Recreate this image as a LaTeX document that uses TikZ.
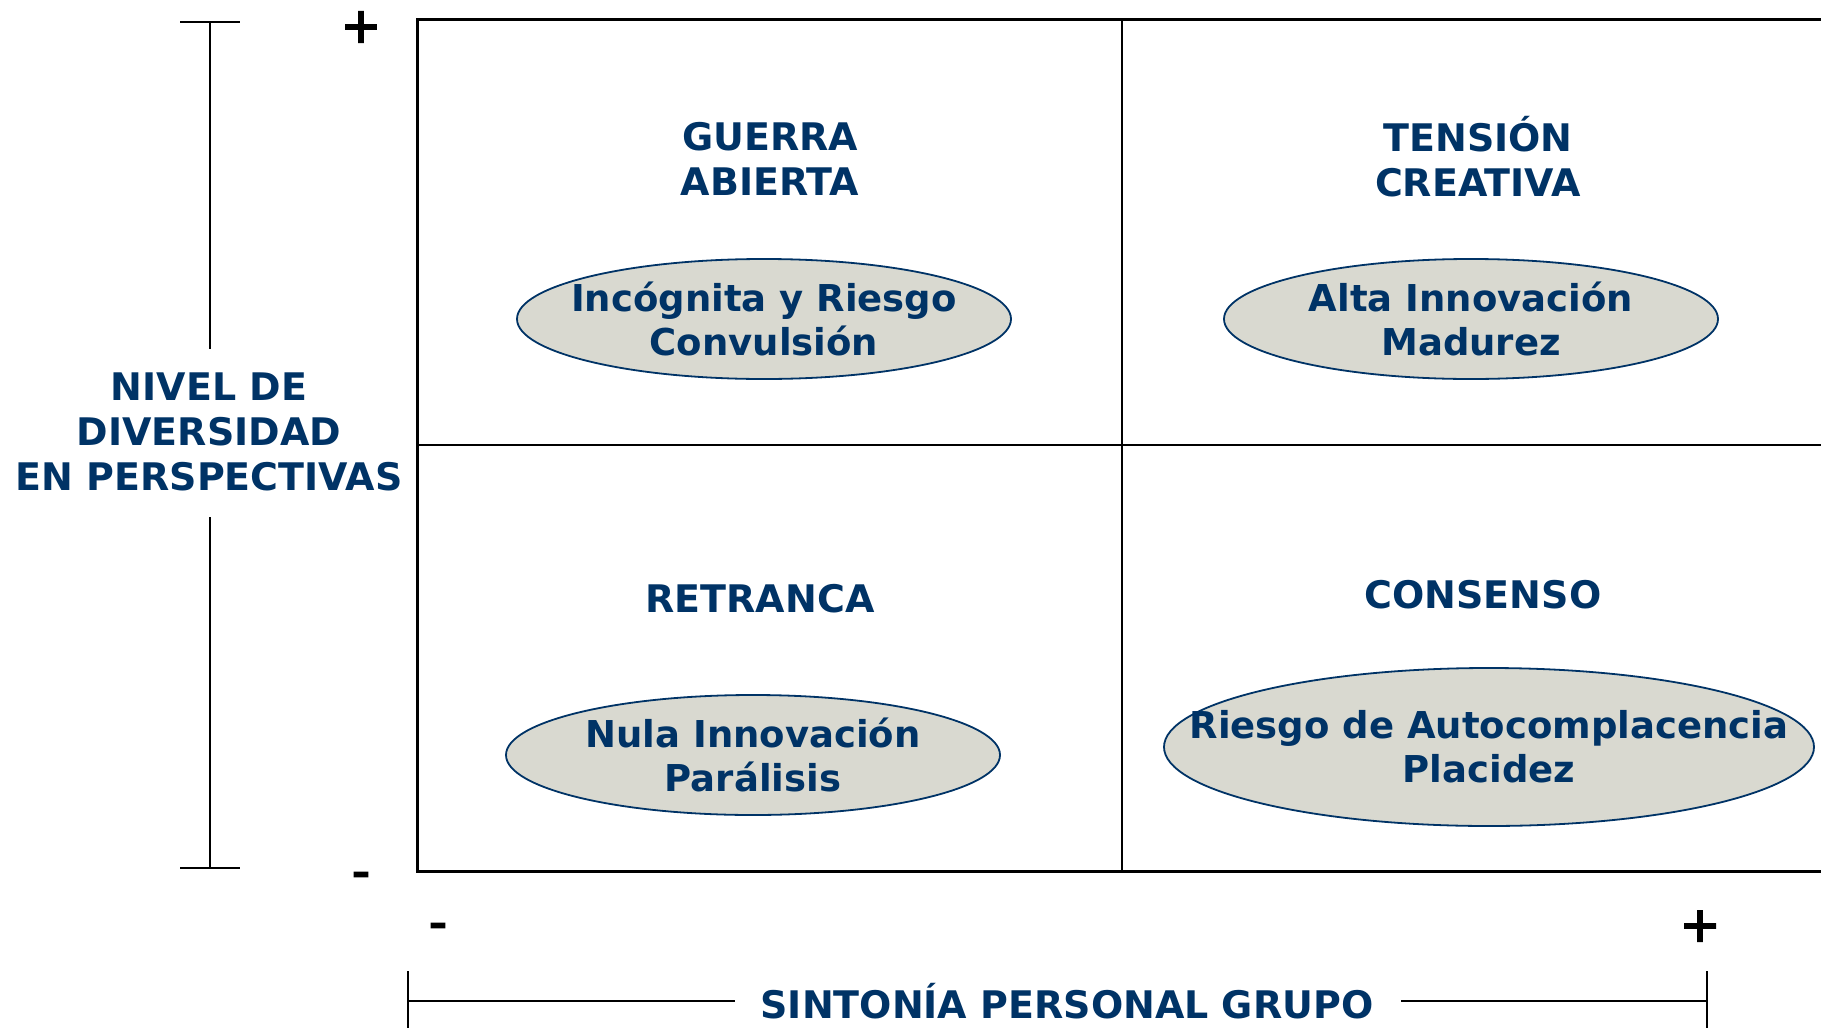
\documentclass[tikz,border=0pt]{standalone}
\usepackage{fontspec}
\setmainfont{DejaVu Sans}
\newfontfamily\signFont{DejaVu Sans}[FakeBold=4]
\usetikzlibrary{positioning,shapes.geometric}
\definecolor{labelBlue}{RGB}{0,51,102}
\definecolor{bubbleFill}{RGB}{217,217,208}
\tikzstyle{plane} = [x = 0.5pt, y = -0.5pt]
\tikzstyle{frameLine} = [color=black, line width=1.5pt]
\tikzstyle{innerLine} = [color=black, line width=1pt]
\tikzstyle{axisLine} = [color=black, line width=0.9pt]
\tikzstyle{quadrantText} = [color=labelBlue, font=\fontsize{19}{22.5}\selectfont\bfseries, align=center]
\tikzstyle{bubbleStyle} = [draw=labelBlue, fill=bubbleFill, ellipse, line width=0.9pt, inner sep=0pt]
\tikzstyle{bubbleText} = [color=labelBlue, font=\fontsize{18.5}{22}\selectfont\bfseries, align=center]
\tikzstyle{signText} = [font=\fontsize{24}{24}\signFont, inner sep=0pt]
\newcommand{\quadrantBubble}[5]{\node [bubbleStyle, minimum width=#3, minimum height=#4] (#1) at #2 {};
  \node [bubbleText] (#1Text) at (#1) {#5};}

\begin{document}
\begin{tikzpicture}[plane]
  \useasboundingbox (0,0) rectangle (1821,1028);

  % the four quadrants
  \draw [frameLine] (1830,19) -| (417,871) -- (1830,871);
  \draw [innerLine] (1122,19) -- (1122,871);
  \draw [innerLine] (417,445) -- (1830,445);

  \node [quadrantText] (guerra) at (770,159) {GUERRA\\ABIERTA};
  \node [quadrantText] (tension) at (1478,157) {TENSIÓN\\CREATIVA};
  \node [quadrantText] (retranca) at (760,599) {RETRANCA};
  \node [quadrantText] (consenso) at (1483,595) {CONSENSO};

  \quadrantBubble{bubbleGuerra}{(764,319)}{247pt}{60pt}{Incógnita y Riesgo\\Convulsión}
  \quadrantBubble{bubbleTension}{(1471,319)}{247pt}{60pt}{Alta Innovación\\Madurez}
  \quadrantBubble{bubbleRetranca}{(753,755)}{247pt}{60pt}{Nula Innovación\\Parálisis}
  \quadrantBubble{bubbleConsenso}{(1489,747)}{325pt}{79pt}{Riesgo de Autocomplacencia\\Placidez}

  % vertical axis
  \node [quadrantText] (levelLabel) at (209,432) {NIVEL DE\\DIVERSIDAD\\EN PERSPECTIVAS};
  \coordinate (levelTop) at (210,22);
  \coordinate (levelBottom) at (210,868);
  \coordinate (levelGapTop) at (210,349);
  \coordinate (levelGapBottom) at (210,517);
  \draw [axisLine] (levelTop) -- (levelGapTop);
  \draw [axisLine] (levelGapBottom) -- (levelBottom);
  \draw [axisLine] ([xshift=-15pt]levelTop) -- ([xshift=15pt]levelTop);
  \draw [axisLine] ([xshift=-15pt]levelBottom) -- ([xshift=15pt]levelBottom);
  \node [signText] (levelPlus) at (361,27) {+};
  \node [signText] (levelMinus) at (361,880) {-};

  % horizontal axis
  \node [quadrantText] (syncLabel) at (1067,1001) {SINTONÍA PERSONAL GRUPO};
  \coordinate (syncLeft) at (408,1001);
  \coordinate (syncRight) at (1707,1001);
  \coordinate (syncGapLeft) at (735,1001);
  \coordinate (syncGapRight) at (1401,1001);
  \draw [axisLine] (syncLeft) -- (syncGapLeft);
  \draw [axisLine] (syncGapRight) -- (syncRight);
  \draw [axisLine] ([yshift=15pt]syncLeft) -- ([yshift=-15pt]syncLeft);
  \draw [axisLine] ([yshift=15pt]syncRight) -- ([yshift=-15pt]syncRight);
  \node [signText] (syncMinus) at (438,931) {-};
  \node [signText] (syncPlus) at (1700,926) {+};
\end{tikzpicture}
\end{document}
